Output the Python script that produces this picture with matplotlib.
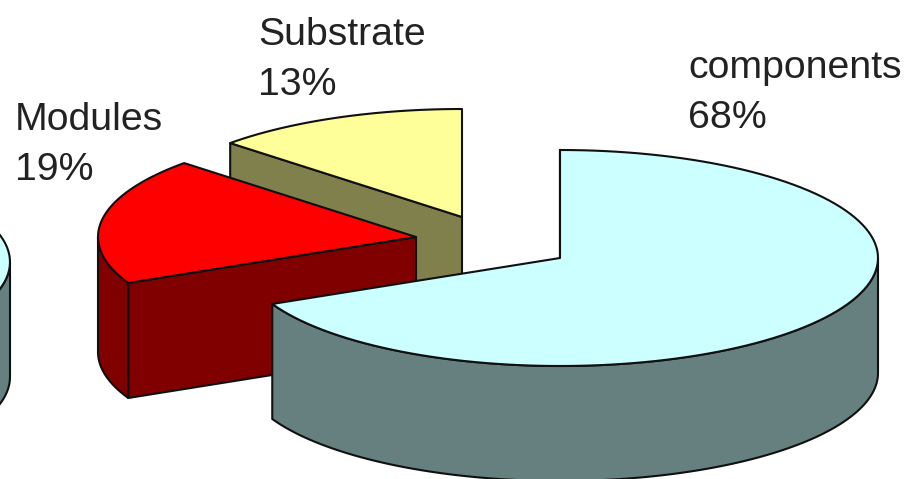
"""
Exploded 3D pie of cost shares, drawn as flat polygons
"""
import numpy as np
import matplotlib
matplotlib.use('Agg')
import matplotlib.pyplot as plt
from matplotlib.patches import Polygon

categories = ['components', 'Modules', 'Substrate']
shares = [68, 19, 13]

TOP_COLORS = ['#CCFFFF', '#FF0000', '#FFFF99']
SIDE_COLORS = ['#668080', '#800000', '#80804D']

# pie hub of each slice in pixels, exploded apart
HUBS = [(560, 258), (416, 237), (462, 217)]
LABEL_POS = [(688, 93), (15, 145), (258, 60)]
RX, RY, DEPTH = 318, 108, 115
EDGE = '#101010'
LW = 1.5

plt.rcParams['font.family'] = ['Liberation Sans', 'DejaVu Sans']

fig = plt.figure(figsize=(9.08, 4.79), dpi=100)
ax = fig.add_axes([0, 0, 1, 1])
ax.set_xlim(0, 908)
ax.set_ylim(479, 0)
ax.axis('off')


def rim(hub, t0, t1, n=120):
    # t is the angle clockwise from 12 o'clock, in degrees
    t = np.radians(np.linspace(t0, t1, n))
    return np.column_stack([hub[0] + RX * np.sin(t), hub[1] - RY * np.cos(t)])


def add_poly(pts, color):
    ax.add_patch(Polygon(pts, closed=True, facecolor=color, edgecolor=EDGE,
                         linewidth=LW, joinstyle='round'))


def draw_slice(hub, t0, t1, top, side):
    down = np.array([0, DEPTH])
    hub_pt = np.array(hub, dtype=float)
    # cut face at the start of the sweep
    start = rim(hub, t0, t0, 1)[0]
    add_poly([start, hub_pt, hub_pt + down, start + down], side)
    # outer wall, only the part facing the viewer
    a, b = max(t0, 90), min(t1, 270)
    if a < b:
        arc = rim(hub, a, b)
        add_poly(np.vstack([arc, arc[::-1] + down]), side)
    add_poly(np.vstack([hub_pt, rim(hub, t0, t1)]), top)


angles = np.cumsum([0] + shares) * 3.6

# neighbouring pie, cut off at the left border
draw_slice((-308, 262), angles[0], angles[1], TOP_COLORS[0], SIDE_COLORS[0])

# back to front so the big slice overlaps the others
for i in [2, 1, 0]:
    draw_slice(HUBS[i], angles[i], angles[i + 1], TOP_COLORS[i], SIDE_COLORS[i])

for name, val, pos in zip(categories, shares, LABEL_POS):
    ax.text(pos[0], pos[1], f'{name}\n{val}%', fontsize=28.3, color='#222222',
            ha='left', va='center', linespacing=1.48)

fig.savefig('out.png', dpi=100, facecolor='white')
